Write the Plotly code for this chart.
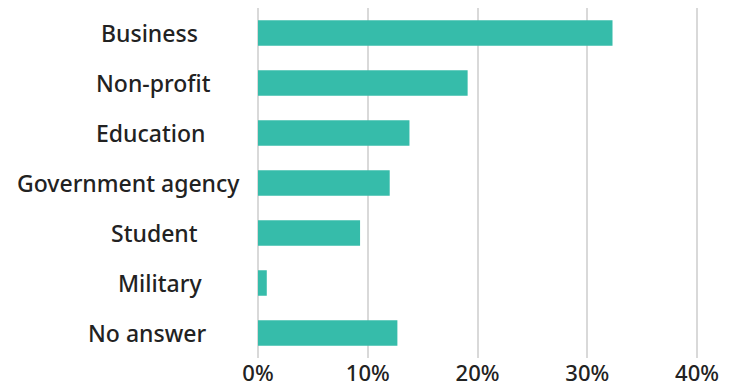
import plotly.graph_objects as go

# Share of respondents by sector (percent)
categories = ["Business", "Non-profit", "Education", "Government agency",
              "Student", "Military", "No answer"]
shares = [32.3, 19.1, 13.8, 12.0, 9.3, 0.8, 12.7]
tick_values = [0, 10, 20, 30, 40]
tick_labels = ["0%", "10%", "20%", "30%", "40%"]

W, H = 730, 389
M_L, M_R, M_T, M_B = 258, 22, 8, 31
X_MAX = 41

BAR_COLOR = "#36bcaa"
GRID_COLOR = "#d9d9d9"
TEXT_COLOR = "#222222"
FONT = "Noto Sans"

# right edge (px from left of page) of each category label
label_right_px = [200, 213, 207, 242, 200, 204, 208]

fig = go.Figure(
    go.Bar(
        x=shares,
        y=categories,
        orientation="h",
        marker=dict(color=BAR_COLOR, line=dict(width=0)),
        hoverinfo="skip",
    )
)

plot_w = W - M_L - M_R
annotations = []
for cat, rpx in zip(categories, label_right_px):
    annotations.append(dict(
        x=(rpx - M_L) / plot_w,
        xref="paper",
        y=cat,
        yref="y",
        text=cat,
        showarrow=False,
        xanchor="right",
        yanchor="middle",
        font=dict(family=FONT, size=23, color=TEXT_COLOR, weight=500),
    ))

fig.update_layout(
    width=W,
    height=H,
    margin=dict(l=M_L, r=M_R, t=M_T, b=M_B, pad=0),
    paper_bgcolor="white",
    plot_bgcolor="white",
    bargap=0.49,
    showlegend=False,
    annotations=annotations,
    xaxis=dict(
        range=[0, X_MAX],
        tickvals=tick_values,
        ticktext=tick_labels,
        showgrid=True,
        gridcolor=GRID_COLOR,
        gridwidth=2,
        zeroline=True,
        zerolinecolor=GRID_COLOR,
        zerolinewidth=2,
        showline=False,
        ticks="",
        automargin=False,
        ticklabelstandoff=0,
        tickfont=dict(family=FONT, size=22, color=TEXT_COLOR, weight=500),
        fixedrange=True,
    ),
    yaxis=dict(
        categoryorder="array",
        categoryarray=categories[::-1],
        showticklabels=False,
        showgrid=False,
        zeroline=False,
        showline=False,
        ticks="",
        automargin=False,
        fixedrange=True,
    ),
)

fig.write_html("out.html", config={"displayModeBar": False})
